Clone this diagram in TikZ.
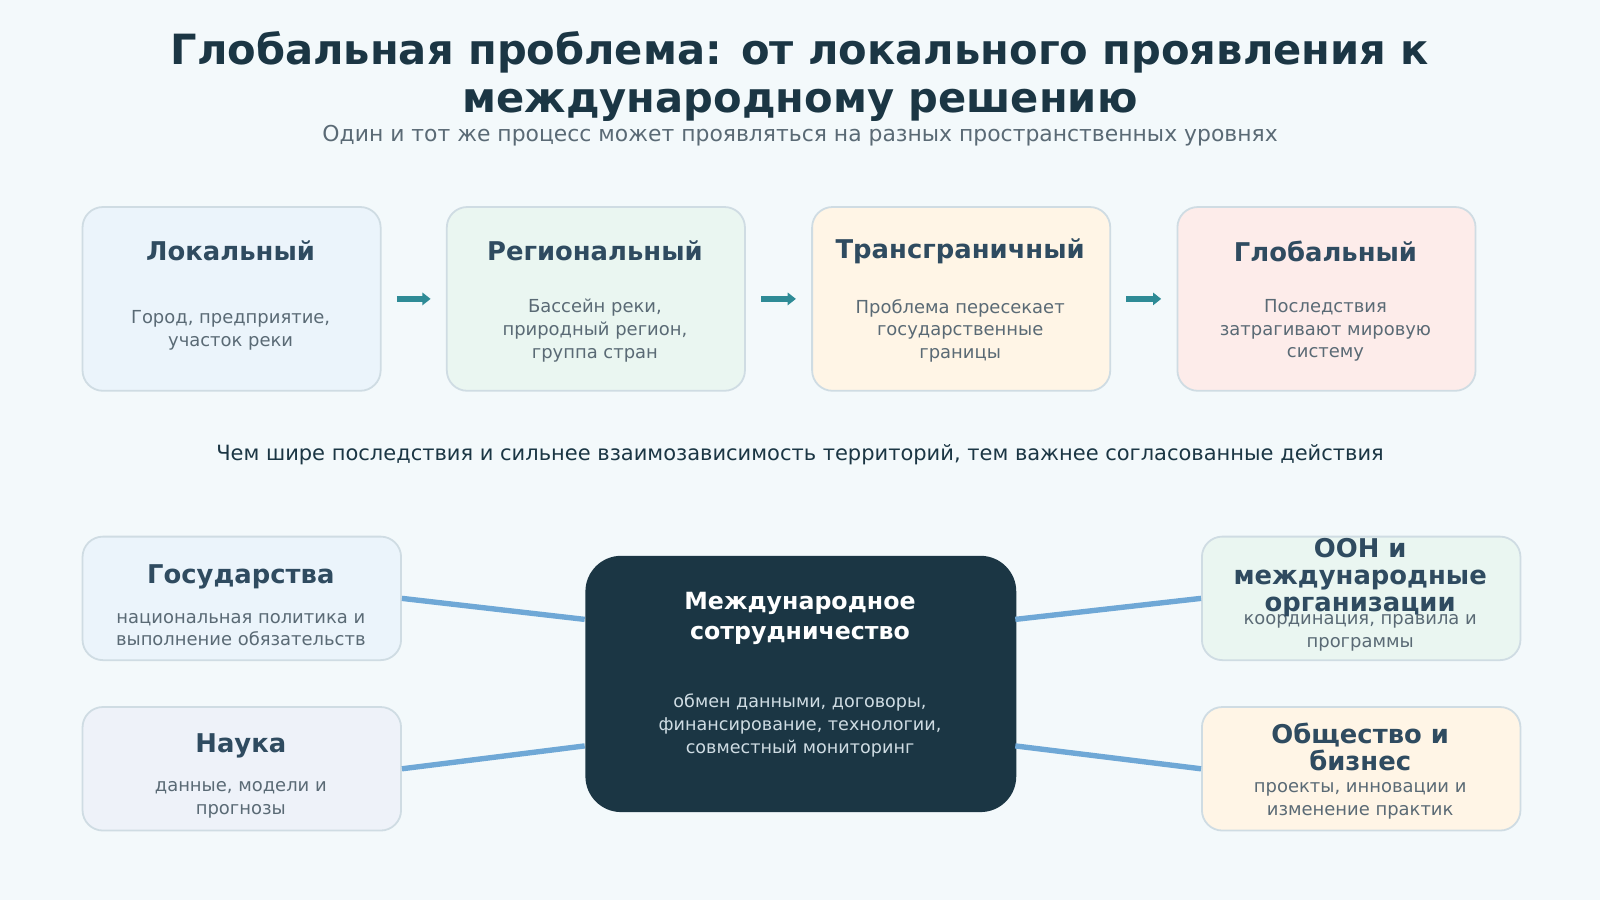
\documentclass[tikz,border=0pt]{standalone}
\usepackage{fontspec}
\setmainfont{DejaVu Sans}
\usetikzlibrary{arrows.meta}
\definecolor{bg}{HTML}{F3F9FB}
\definecolor{ink}{HTML}{1B3644}
\definecolor{head}{HTML}{2F4B60}
\definecolor{body}{HTML}{5A6A75}
\definecolor{edge}{HTML}{CFDCE3}
\definecolor{teal}{HTML}{2E8B96}
\definecolor{wire}{HTML}{6FA8D6}
\definecolor{fblue}{HTML}{EBF4FB}
\definecolor{fgreen}{HTML}{EAF6F1}
\definecolor{fyellow}{HTML}{FFF5E6}
\definecolor{fred}{HTML}{FDECEA}
\definecolor{flav}{HTML}{EEF2F9}
\tikzset{
  box/.style={draw=edge, line width=0.5pt, rounded corners=0.2cm, inner sep=0pt},
  heading/.style={font=\fontsize{7.2}{7.8}\selectfont\bfseries, text=head, align=center},
  note/.style={font=\fontsize{5}{6.3}\selectfont, text=body, align=center},
  levelarrow/.style={-{Triangle[length=0.08cm,width=0.12cm]}, teal, line width=1.8pt},
  link/.style={wire, line width=1.5pt}
}
\begin{document}
\begin{tikzpicture}[x=0.01cm, y=-0.01cm]
  \fill[bg] (0,0) rectangle (1568,882);
  % title
  \node[font=\fontsize{11.6}{13.6}\selectfont\bfseries, text=ink, align=center] (title) at (784,75)
    {Глобальная проблема: от локального проявления к\\международному решению};
  \node[font=\fontsize{6.1}{7}\selectfont, text=body] (subtitle) at (784,133)
    {Один и тот же процесс может проявляться на разных пространственных уровнях};
  % levels
  \foreach \x/\f/\nm/\hd/\tx [count=\i] in {
      80/fblue/loc/Локальный/{Город, предприятие,\\участок реки},
      437/fgreen/reg/Региональный/{Бассейн реки,\\природный регион,\\группа стран},
      795/fyellow/trans/Трансграничный/{Проблема пересекает\\государственные\\границы},
      1153/fred/glob/Глобальный/{Последствия\\затрагивают мировую\\систему}} {
    \node[box, fill=\f, minimum width=2.92cm, minimum height=1.8cm, anchor=north west]
      (\nm) at (\x,202) {};
    \node[heading] (\nm-hd) at (\x+146,246) {\hd};
    \node[note] (\nm-tx) at (\x+146,324) {\tx};
  }
  \foreach \a/\b in {loc/reg, reg/trans, trans/glob}
    \draw[levelarrow] ([xshift=0.15cm]\a.east) -- ([xshift=-0.15cm]\b.west);
  \node[font=\fontsize{5.85}{7}\selectfont, text=ink] (moral) at (784,446)
    {Чем шире последствия и сильнее взаимозависимость территорий, тем важнее согласованные действия};
  % cooperation
  \node[fill=ink, rounded corners=0.35cm, minimum width=4.22cm, minimum height=2.51cm,
    anchor=north west] (coop) at (573,544) {};
  \node[font=\fontsize{6.6}{8.4}\selectfont\bfseries, text=white, align=center] (coop-hd) at (784,606)
    {Международное\\сотрудничество};
  \node[font=\fontsize{4.9}{6.3}\selectfont, text=edge, align=center] (coop-tx) at (784,711)
    {обмен данными, договоры,\\финансирование, технологии,\\совместный мониторинг};
  \foreach \x/\y/\f/\nm/\hd/\tx/\hy/\ty in {
      80/525/fblue/state/Государства/{национальная политика и\\выполнение обязательств}/565/617,
      80/692/flav/sci/Наука/{данные, модели и\\прогнозы}/731/784,
      1177/525/fgreen/un/{ООН и\\международные\\организации}/{координация, правила и\\программы}/566/620,
      1177/692/fyellow/soc/{Общество и\\бизнес}/{проекты, инновации и\\изменение практик}/732/785} {
    \node[box, fill=\f, minimum width=3.12cm, minimum height=1.21cm, anchor=north west]
      (\nm) at (\x,\y) {};
    \node[note] (\nm-tx) at (\x+156,\ty) {\tx};
    \node[heading, font=\fontsize{7.2}{7.4}\selectfont\bfseries] (\nm-hd) at (\x+156,\hy) {\hd};
  }
  \coordinate (c1) at (573,607);
  \coordinate (c2) at (573,731);
  \coordinate (c3) at (995,607);
  \coordinate (c4) at (995,731);
  \draw[link] (state.east) -- (c1);
  \draw[link] (sci.east) -- (c2);
  \draw[link] (c3) -- (un.west);
  \draw[link] (c4) -- (soc.west);
\end{tikzpicture}
\end{document}
